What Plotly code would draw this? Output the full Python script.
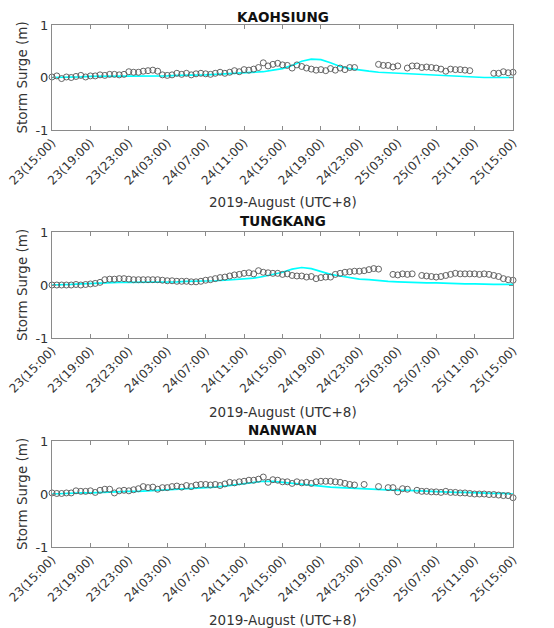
import plotly.graph_objects as go

# ---------------- data ----------------
tick_hours = [0, 4, 8, 12, 16, 20, 24, 28, 32, 36, 40, 44, 48]
tick_labels = ["23(15:00)", "23(19:00)", "23(23:00)", "24(03:00)", "24(07:00)",
               "24(11:00)", "24(15:00)", "24(19:00)", "24(23:00)", "25(03:00)",
               "25(07:00)", "25(11:00)", "25(15:00)"]

stations = ["KAOHSIUNG", "TUNGKANG", "NANWAN"]

obs_hours = [i * 0.5 for i in range(97)]
model_hours = list(range(49))

kaohsiung_obs = [
    0.01, 0.03, -0.02, 0.01, 0.00, 0.02, 0.04, 0.01,
    0.03, 0.03, 0.05, 0.04, 0.06, 0.06, 0.05, 0.06,
    0.11, 0.10, 0.10, 0.12, 0.13, 0.14, 0.12, 0.05,
    0.04, 0.05, 0.08, 0.06, 0.08, 0.05, 0.07, 0.08,
    0.07, 0.06, 0.08, 0.10, 0.08, 0.10, 0.13, 0.11,
    0.15, 0.14, 0.16, 0.19, 0.28, 0.22, 0.25, 0.27,
    0.24, 0.23, 0.18, 0.24, 0.21, 0.18, 0.16, 0.14,
    0.15, 0.13, 0.17, 0.14, 0.18, 0.15, 0.19, 0.19,
    None, None, None, None, 0.25, 0.23, 0.23, 0.20,
    0.22, None, 0.18, 0.22, 0.22, 0.19, 0.20, 0.19,
    0.18, 0.16, 0.12, 0.16, 0.15, 0.15, 0.14, 0.13,
    None, None, None, None, 0.08, 0.08, 0.11, 0.09,
    0.10]

tungkang_obs = [
    0.00, 0.00, 0.00, 0.00, 0.00, 0.01, 0.00, 0.01,
    0.02, 0.03, 0.05, 0.10, 0.11, 0.11, 0.12, 0.12,
    0.11, 0.10, 0.10, 0.10, 0.10, 0.10, 0.10, 0.09,
    0.08, 0.08, 0.07, 0.07, 0.07, 0.06, 0.06, 0.07,
    0.09, 0.10, 0.12, 0.14, 0.15, 0.17, 0.19, 0.20,
    0.22, 0.23, 0.21, 0.27, 0.24, 0.23, 0.22, 0.22,
    0.20, 0.21, 0.18, 0.17, 0.17, 0.15, 0.16, 0.12,
    0.14, 0.15, 0.15, 0.20, 0.22, 0.24, 0.25, 0.26,
    0.26, 0.27, 0.29, 0.31, 0.30, None, None, 0.20,
    0.19, 0.21, 0.20, 0.21, None, 0.18, 0.17, 0.16,
    0.15, 0.16, 0.18, 0.20, 0.22, 0.21, 0.21, 0.21,
    0.21, 0.20, 0.21, 0.20, 0.18, 0.16, 0.12, 0.10,
    0.09]

nanwan_obs = [
    0.02, 0.01, 0.01, 0.02, 0.02, 0.06, 0.05, 0.05,
    0.06, 0.03, 0.07, 0.09, 0.09, 0.02, 0.06, 0.07,
    0.06, 0.08, 0.10, 0.14, 0.12, 0.13, 0.09, 0.12,
    0.12, 0.14, 0.15, 0.13, 0.16, 0.14, 0.17, 0.18,
    0.18, 0.17, 0.18, 0.16, 0.19, 0.22, 0.21, 0.23,
    0.24, 0.26, 0.26, 0.28, 0.32, 0.22, 0.27, 0.26,
    0.23, 0.23, 0.20, 0.23, 0.21, 0.22, 0.20, 0.23,
    0.24, 0.24, 0.24, 0.23, 0.22, 0.20, 0.18, 0.17,
    None, 0.18, None, None, 0.14, None, 0.12, 0.12,
    0.04, 0.10, 0.09, None, 0.07, 0.05, 0.05, 0.04,
    0.04, 0.03, 0.05, 0.03, 0.03, 0.02, 0.02, 0.01,
    0.00, 0.00, 0.00, -0.01, -0.01, -0.02, -0.03, -0.03,
    -0.07]

kaohsiung_model = [
    0.00, 0.00, 0.01, 0.01, 0.02, 0.02, 0.02, 0.03, 0.03, 0.03,
    0.03, 0.03, 0.03, 0.04, 0.04, 0.05, 0.05, 0.06, 0.07, 0.08,
    0.09, 0.10, 0.11, 0.14, 0.17, 0.23, 0.31, 0.35, 0.34, 0.28,
    0.21, 0.17, 0.14, 0.12, 0.10, 0.09, 0.08, 0.07, 0.06, 0.05,
    0.04, 0.03, 0.02, 0.01, 0.00, 0.00, 0.00, 0.00, 0.00]

tungkang_model = [
    0.00, 0.00, 0.01, 0.02, 0.03, 0.04, 0.04, 0.05, 0.05, 0.05,
    0.05, 0.06, 0.06, 0.06, 0.07, 0.07, 0.08, 0.08, 0.09, 0.10,
    0.11, 0.13, 0.16, 0.20, 0.24, 0.30, 0.33, 0.31, 0.25, 0.20,
    0.17, 0.14, 0.11, 0.10, 0.08, 0.07, 0.06, 0.05, 0.05, 0.04,
    0.04, 0.03, 0.03, 0.02, 0.02, 0.01, 0.01, 0.01, 0.01]

nanwan_model = [
    0.00, 0.01, 0.01, 0.02, 0.02, 0.03, 0.03, 0.04, 0.05, 0.05,
    0.06, 0.07, 0.07, 0.08, 0.09, 0.10, 0.11, 0.13, 0.15, 0.17,
    0.19, 0.21, 0.24, 0.24, 0.22, 0.20, 0.18, 0.16, 0.14, 0.13,
    0.12, 0.11, 0.10, 0.09, 0.09, 0.08, 0.07, 0.07, 0.06, 0.05,
    0.05, 0.04, 0.03, 0.03, 0.02, 0.02, 0.01, 0.01, 0.00]

obs_series = [kaohsiung_obs, tungkang_obs, nanwan_obs]
model_series = [kaohsiung_model, tungkang_model, nanwan_model]

# ---------------- layout ----------------
OFF = 8                      # default page body margin in the browser
W, H = 554 - OFF, 628 - OFF  # figure size so it fits the window

def px_x(p):
    return (p - OFF) / W

def px_y(p):
    return 1 - (p - OFF) / H

x_px = (52, 513)
panels_px = [(25, 130), (232, 338), (441, 547)]   # top, bottom in window pixels
title_y_px = [None, 221, 430]
xlabel_y_px = [202, 412, 620]

FONT = "DejaVu Sans"
TXT = "#333333"
AX = "#8a8a8a"
MK = "#555555"

fig = go.Figure()
layout = dict(
    width=W, height=H, margin=dict(l=0, r=0, t=0, b=0, autoexpand=False),
    paper_bgcolor="white", plot_bgcolor="white", showlegend=False,
    font=dict(family=FONT, color=TXT, size=12),
)
annotations = []

for i, name in enumerate(stations):
    n = "" if i == 0 else str(i + 1)
    xa, ya = "x" + n, "y" + n
    top, bot = panels_px[i]
    fig.add_trace(go.Scatter(
        x=model_hours, y=model_series[i], mode="lines", xaxis=xa, yaxis=ya,
        line=dict(color="#00ffff", width=1.7), hoverinfo="skip", cliponaxis=False))
    fig.add_trace(go.Scatter(
        x=obs_hours, y=obs_series[i], mode="markers", xaxis=xa, yaxis=ya,
        marker=dict(symbol="circle-open", size=6, color=MK,
                    line=dict(width=0.9, color=MK)),
        hoverinfo="skip", cliponaxis=False))
    layout["xaxis" + n] = dict(
        domain=[px_x(x_px[0]), px_x(x_px[1])], range=[0, 48], anchor=ya,
        automargin=False, ticklabeloverflow="allow",
        tickvals=tick_hours, ticktext=tick_labels, tickangle=-45,
        ticks="inside", ticklen=4, tickcolor=AX, showline=True, linecolor=AX,
        linewidth=1, mirror="ticks", showgrid=False, zeroline=False,
        tickfont=dict(family=FONT, size=12, color=TXT))
    layout["yaxis" + n] = dict(
        domain=[px_y(bot), px_y(top)], range=[-1, 1], anchor=xa,
        automargin=False, ticklabeloverflow="allow",
        tickvals=[-1, 0, 1], ticktext=["-1", "0", "1"],
        ticks="inside", ticklen=4, tickcolor=AX, showline=True, linecolor=AX,
        linewidth=1, mirror="ticks", showgrid=False, zeroline=False,
        tickfont=dict(family=FONT, size=13, color=TXT))
    if title_y_px[i] is None:
        ttl_y, ttl_anchor = 1.0, "top"
    else:
        ttl_y, ttl_anchor = px_y(title_y_px[i]), "middle"
    annotations.append(dict(
        text="<b>%s</b>" % name, x=px_x((x_px[0] + x_px[1]) / 2), y=ttl_y,
        xref="paper", yref="paper", showarrow=False, xanchor="center", yanchor=ttl_anchor,
        borderpad=0, font=dict(family=FONT, size=13.5, color="#111111")))
    annotations.append(dict(
        text="2019-August (UTC+8)", x=px_x((x_px[0] + x_px[1]) / 2), y=px_y(xlabel_y_px[i]),
        xref="paper", yref="paper", showarrow=False, xanchor="center", yanchor="middle",
        borderpad=0, font=dict(family=FONT, size=13.5, color=TXT)))
    annotations.append(dict(
        text="Storm Surge (m)", x=px_x(22), y=px_y((top + bot) / 2),
        xref="paper", yref="paper", showarrow=False, xanchor="center", yanchor="middle",
        textangle=-90, font=dict(family=FONT, size=13.5, color=TXT)))

layout["annotations"] = annotations
fig.update_layout(**layout)
fig.write_html("out.html")
